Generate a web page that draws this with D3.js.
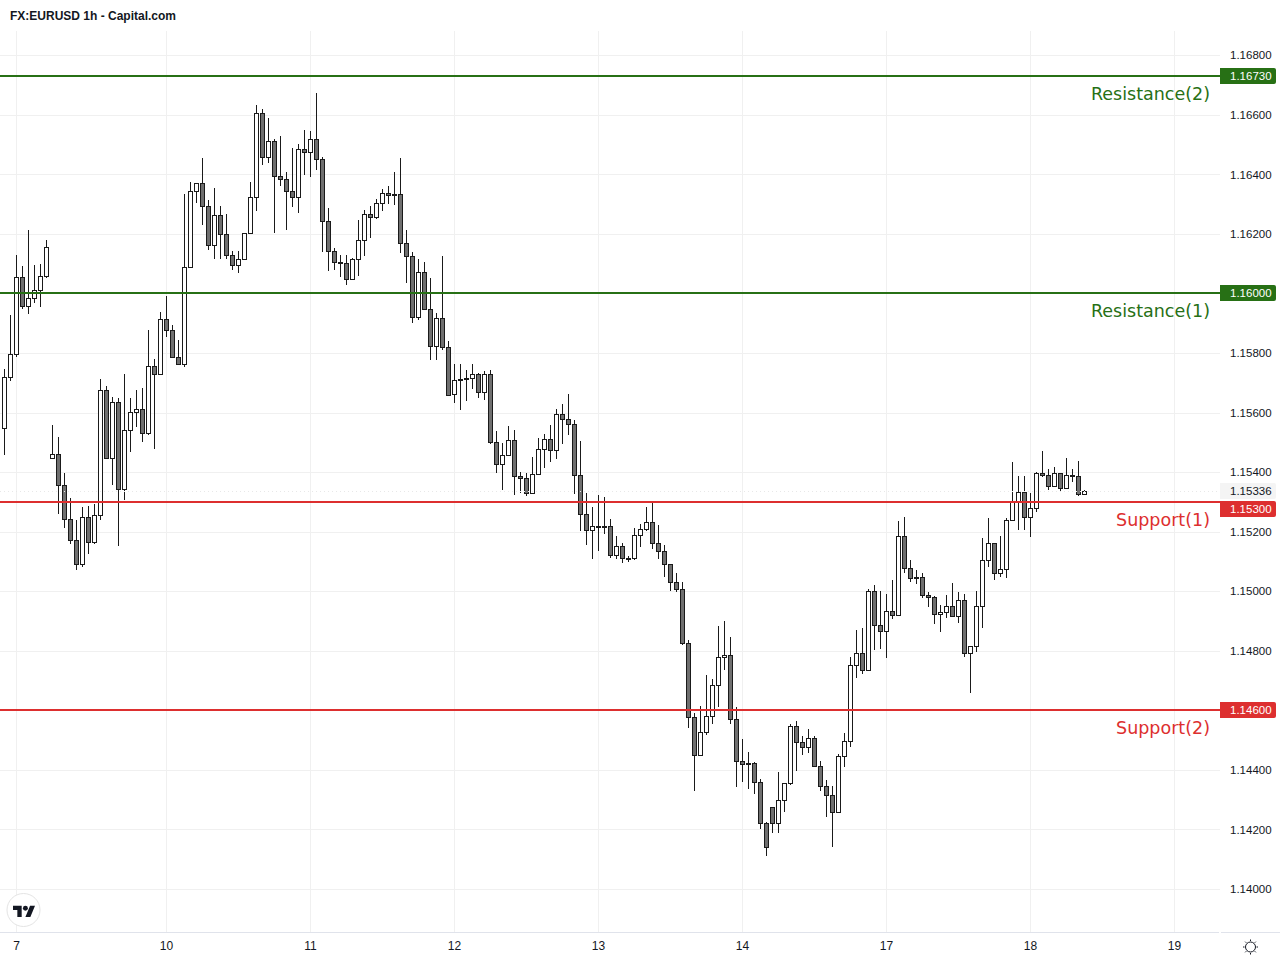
<!DOCTYPE html>
<html><head><meta charset="utf-8">
<script src="https://cdn.jsdelivr.net/npm/d3@7"></script>
<style>html,body{margin:0;padding:0;background:#fff}svg{display:block}text{font-family:"Liberation Sans",Arial,sans-serif}</style>
</head><body><svg id="c" width="1280" height="960"></svg>
<script>
const title = "FX:EURUSD 1h - Capital.com";
const priceTicks = [1.168,1.166,1.164,1.162,1.16,1.158,1.156,1.154,1.152,1.15,1.148,1.146,1.144,1.142,1.14];
const dayIndex = [2,27,51,75,99,123,147,171,195];
const dayLabels = ["7","10","11","12","13","14","17","18","19"];
const levelPrices = [1.1673,1.16,1.153,1.146];
const levelNames = ["Resistance(2)","Resistance(1)","Support(1)","Support(2)"];
const levelKinds = ["r","r","s","s"];
const lastPrice = 1.15336;
const opens = [
1.15548,1.15719,1.15796,1.16055,1.15957,1.15984,1.16011,1.16058,1.15447,1.15460,
1.15356,1.15242,1.15172,1.15091,1.15249,1.15165,1.15256,1.15675,1.15447,1.15635,
1.15343,1.15541,1.15601,1.15612,1.15531,1.15756,1.15729,1.15914,1.15877,1.15786,
1.15763,1.16088,1.16344,1.16371,1.16293,1.16162,1.16263,1.16199,1.16129,1.16095,
1.16115,1.16203,1.16323,1.16606,1.16458,1.16512,1.16394,1.16384,1.16344,1.16323,
1.16485,1.16475,1.16518,1.16451,1.16243,1.16142,1.16105,1.16102,1.16048,1.16115,
1.16179,1.16266,1.16256,1.16303,1.16337,1.16334,1.16334,1.16169,1.16125,1.15921,
1.16072,1.15947,1.15823,1.15917,1.15820,1.15662,1.15712,1.15712,1.15716,1.15729,
1.15669,1.15729,1.15501,1.15427,1.15457,1.15507,1.15387,1.15380,1.15329,1.15393,
1.15477,1.15511,1.15474,1.15595,1.15578,1.15561,1.15390,1.15259,1.15205,1.15219,
1.15219,1.15219,1.15121,1.15151,1.15111,1.15111,1.15188,1.15208,1.15232,1.15161,
1.15135,1.15091,1.15030,1.15007,1.14826,1.14577,1.14449,1.14527,1.14580,1.14685,
1.14779,1.14785,1.14570,1.14429,1.14423,1.14423,1.14359,1.14221,1.14275,1.14221,
1.14298,1.14355,1.14547,1.14493,1.14476,1.14507,1.14413,1.14345,1.14315,1.14258,
1.14446,1.14496,1.14752,1.14792,1.14735,1.15000,1.14886,1.14866,1.14933,1.14920,
1.15185,1.15078,1.15047,1.15047,1.14987,1.14980,1.14923,1.14930,1.14950,1.14916,
1.14970,1.14792,1.14816,1.14950,1.15104,1.15162,1.15061,1.15074,1.15239,1.15303,
1.15333,1.15249,1.15279,1.15397,1.15390,1.15353,1.15397,1.15346,1.15390,1.15387,
1.15326];
const highs = [
1.15746,1.15928,1.16130,1.16093,1.16214,1.16096,1.16100,1.16180,1.15559,1.15519,
1.15398,1.15314,1.15240,1.15284,1.15287,1.15294,1.15713,1.15690,1.15653,1.15650,
1.15730,1.15650,1.15676,1.15683,1.15878,1.15781,1.15938,1.15992,1.15895,1.15844,
1.16335,1.16374,1.16371,1.16456,1.16313,1.16355,1.16293,1.16268,1.16142,1.16142,
1.16203,1.16374,1.16634,1.16620,1.16590,1.16518,1.16530,1.16409,1.16488,1.16502,
1.16550,1.16545,1.16674,1.16458,1.16288,1.16152,1.16129,1.16130,1.16120,1.16247,
1.16281,1.16294,1.16318,1.16352,1.16362,1.16409,1.16456,1.16214,1.16140,1.16116,
1.16106,1.16053,1.15935,1.16126,1.15841,1.15764,1.15764,1.15744,1.15764,1.15732,
1.15740,1.15744,1.15539,1.15497,1.15556,1.15542,1.15401,1.15398,1.15451,1.15515,
1.15529,1.15559,1.15613,1.15629,1.15663,1.15576,1.15505,1.15331,1.15284,1.15324,
1.15317,1.15243,1.15186,1.15161,1.15118,1.15213,1.15226,1.15284,1.15297,1.15223,
1.15156,1.15091,1.15062,1.15032,1.14836,1.14592,1.14615,1.14719,1.14706,1.14884,
1.14901,1.14847,1.14612,1.14504,1.14461,1.14427,1.14370,1.14226,1.14275,1.14394,
1.14355,1.14555,1.14565,1.14514,1.14538,1.14514,1.14430,1.14367,1.14346,1.14454,
1.14524,1.14780,1.14870,1.14877,1.15007,1.15022,1.15000,1.14991,1.15038,1.15235,
1.15250,1.15104,1.15072,1.15062,1.14997,1.14984,1.14953,1.14988,1.15028,1.14997,
1.14991,1.14816,1.15001,1.15179,1.15247,1.15162,1.15185,1.15245,1.15435,1.15386,
1.15386,1.15329,1.15400,1.15472,1.15411,1.15418,1.15397,1.15448,1.15411,1.15438,
1.15340];
const lows = [
1.15459,1.15708,1.15788,1.15950,1.15930,1.15970,1.15956,1.16054,1.15443,1.15261,
1.15214,1.15160,1.15073,1.15083,1.15127,1.15160,1.15241,1.15447,1.15357,1.15154,
1.15308,1.15469,1.15553,1.15503,1.15525,1.15479,1.15729,1.15856,1.15786,1.15763,
1.15755,1.16088,1.16306,1.16231,1.16147,1.16116,1.16116,1.16116,1.16079,1.16069,
1.16115,1.16203,1.16279,1.16432,1.16439,1.16205,1.16362,1.16214,1.16291,1.16271,
1.16399,1.16392,1.16415,1.16140,1.16076,1.16079,1.16056,1.16029,1.16048,1.16059,
1.16126,1.16187,1.16251,1.16278,1.16301,1.16298,1.16137,1.16036,1.15902,1.15912,
1.15947,1.15777,1.15777,1.15811,1.15656,1.15633,1.15609,1.15640,1.15680,1.15650,
1.15643,1.15495,1.15398,1.15341,1.15457,1.15324,1.15329,1.15320,1.15329,1.15393,
1.15414,1.15436,1.15445,1.15495,1.15525,1.15327,1.15203,1.15156,1.15109,1.15136,
1.15193,1.15112,1.15109,1.15095,1.15099,1.15105,1.15149,1.15203,1.15142,1.15109,
1.15048,1.15001,1.14998,1.14820,1.14541,1.14330,1.14449,1.14519,1.14555,1.14612,
1.14736,1.14555,1.14343,1.14360,1.14336,1.14320,1.14202,1.14111,1.14189,1.14189,
1.14259,1.14350,1.14397,1.14451,1.14457,1.14413,1.14330,1.14242,1.14142,1.14258,
1.14410,1.14479,1.14709,1.14723,1.14735,1.14803,1.14807,1.14776,1.14907,1.14920,
1.15062,1.15032,1.15025,1.14978,1.14948,1.14891,1.14864,1.14911,1.14916,1.14894,
1.14780,1.14659,1.14797,1.14877,1.15082,1.15038,1.15048,1.15046,1.15239,1.15206,
1.15206,1.15184,1.15268,1.15385,1.15341,1.15353,1.15338,1.15346,1.15367,1.15322,
1.15326];
const closes = [
1.15719,1.15796,1.16055,1.15957,1.15984,1.16011,1.16058,1.16156,1.15460,1.15356,
1.15242,1.15172,1.15091,1.15249,1.15165,1.15256,1.15675,1.15447,1.15635,1.15343,
1.15541,1.15601,1.15612,1.15531,1.15756,1.15729,1.15914,1.15877,1.15786,1.15763,
1.16088,1.16344,1.16371,1.16293,1.16162,1.16263,1.16199,1.16129,1.16095,1.16115,
1.16203,1.16323,1.16606,1.16458,1.16512,1.16394,1.16384,1.16344,1.16323,1.16485,
1.16475,1.16518,1.16451,1.16243,1.16142,1.16105,1.16102,1.16048,1.16115,1.16179,
1.16266,1.16256,1.16303,1.16337,1.16330,1.16330,1.16169,1.16125,1.15921,1.16072,
1.15947,1.15823,1.15917,1.15820,1.15661,1.15709,1.15709,1.15716,1.15729,1.15669,
1.15729,1.15501,1.15427,1.15457,1.15507,1.15387,1.15380,1.15329,1.15393,1.15477,
1.15511,1.15474,1.15595,1.15578,1.15561,1.15390,1.15259,1.15205,1.15219,1.15217,
1.15217,1.15121,1.15151,1.15111,1.15109,1.15188,1.15208,1.15232,1.15161,1.15135,
1.15091,1.15030,1.15007,1.14826,1.14577,1.14449,1.14527,1.14580,1.14685,1.14779,
1.14785,1.14570,1.14429,1.14419,1.14419,1.14359,1.14221,1.14141,1.14221,1.14298,
1.14355,1.14547,1.14493,1.14476,1.14507,1.14413,1.14345,1.14315,1.14258,1.14446,
1.14496,1.14752,1.14792,1.14735,1.15000,1.14886,1.14866,1.14933,1.14920,1.15185,
1.15078,1.15044,1.15044,1.14987,1.14980,1.14923,1.14930,1.14950,1.14916,1.14970,
1.14792,1.14816,1.14950,1.15104,1.15162,1.15061,1.15074,1.15239,1.15303,1.15333,
1.15249,1.15279,1.15397,1.15390,1.15353,1.15397,1.15346,1.15390,1.15387,1.15326,
1.15336];

const svg = d3.select("#c");
const paneR = 1220, paneT = 31, paneB = 932;
const x = d3.scaleLinear().domain([0,195]).range([4.5,1174.5]);
const y = d3.scaleLinear().domain([1.168,1.14]).range([55.45,889.15]);
const snap = v => Math.round(v);
const gridCol = "#f0f0f0", ink = "#131722";
const colors = {r:"#277015", s:"#dd2f2f"};
const axisFont = "11.5px";

svg.append("rect").attr("width",1280).attr("height",960).attr("fill","#fff");

const gridY = d => Math.floor(y(d)+0.25)+0.5;
const grid = svg.append("g").attr("stroke",gridCol).attr("stroke-width",1);
grid.selectAll(".h").data(priceTicks).join("line")
  .attr("x1",0).attr("x2",paneR).attr("y1",gridY).attr("y2",gridY);
grid.selectAll(".v").data(dayIndex).join("line")
  .attr("x1",d=>x(d)).attr("x2",d=>x(d)).attr("y1",paneT).attr("y2",paneB);

// candles
const candles = d3.range(opens.length).map(i=>({i,o:opens[i],h:highs[i],l:lows[i],c:closes[i]}));
const cg = svg.append("g").selectAll("g").data(candles).join("g");
cg.append("line").attr("x1",d=>x(d.i)).attr("x2",d=>x(d.i))
  .attr("y1",d=>snap(y(d.h))).attr("y2",d=>snap(y(d.l)))
  .attr("stroke","#1a1a1a").attr("stroke-width",1);
cg.append("rect")
  .attr("x",d=>x(d.i)-2).attr("width",4)
  .attr("y",d=>snap(y(Math.max(d.o,d.c)))+0.5)
  .attr("height",d=>Math.max(0,snap(y(Math.min(d.o,d.c)))-snap(y(Math.max(d.o,d.c)))))
  .attr("fill",d=>d.c>=d.o?"#ffffff":"#6f6f6f")
  .attr("stroke","#1a1a1a").attr("stroke-width",1);

// last price dotted line
svg.append("line").attr("x1",0).attr("x2",paneR)
  .attr("y1",Math.floor(y(lastPrice))+0.5).attr("y2",Math.floor(y(lastPrice))+0.5)
  .attr("stroke","#e8e8e8").attr("stroke-width",1).attr("stroke-dasharray","1 3");

// levels
const levels = levelPrices.map((p,i)=>({p,name:levelNames[i],col:colors[levelKinds[i]],tagShift:p===1.153?7:0}));
svg.append("g").selectAll("line").data(levels).join("line")
  .attr("x1",0).attr("x2",paneR)
  .attr("y1",d=>Math.floor(y(d.p))).attr("y2",d=>Math.floor(y(d.p)))
  .attr("stroke",d=>d.col).attr("stroke-width",2);
svg.append("g").selectAll("text").data(levels).join("text")
  .attr("x",1210).attr("y",d=>Math.floor(y(d.p))+23.5)
  .attr("text-anchor","end").attr("fill",d=>d.col)
  .style("font-family","'DejaVu Sans',sans-serif").style("font-size","17.5px")
  .text(d=>d.name);

// price axis
const yAxis = d3.axisRight(y).offset(0).tickValues(priceTicks).tickFormat(d3.format(".5f")).tickSize(0).tickPadding(0);
const ya = svg.append("g").attr("transform","translate(1230,0)").call(yAxis);
ya.select(".domain").remove();
ya.selectAll("text").attr("fill",ink).style("font-size",axisFont).style("font-family","'Liberation Sans',sans-serif").attr("dy","0.35em");

const tagPath = (yc)=>{
  const t=yc-8,b=yc+8,l=1220,r=1276,c=2;
  return `M${l},${t}H${r-c}Q${r},${t} ${r},${t+c}V${b-c}Q${r},${b} ${r-c},${b}H${l}Z`;
};
const tagY = d => Math.floor(y(d.p))+d.tagShift;
svg.append("g").selectAll("path").data(levels).join("path")
  .attr("d",d=>tagPath(tagY(d))).attr("fill",d=>d.col);
svg.append("path").attr("d",tagPath(491)).attr("fill","#f4f4f4");
const tags = levels.map(d=>({p:d.p,col:"#fff",yc:tagY(d)})).concat([{p:lastPrice,col:ink,yc:491}]);
svg.append("g").selectAll("text").data(tags).join("text")
  .attr("x",1230).attr("y",d=>d.yc).attr("dy","0.35em").attr("fill",d=>d.col)
  .style("font-size",axisFont).text(d=>d3.format(".5f")(d.p));

// time axis
const xAxis = d3.axisBottom(x).offset(0).tickValues(dayIndex).tickFormat((d,i)=>dayLabels[i]).tickSize(0).tickPadding(0);
const xa = svg.append("g").attr("transform",`translate(0,${paneB+9})`).call(xAxis);
xa.select(".domain").remove();
xa.selectAll("text").attr("fill",ink).style("font-size","12px").style("font-family","'Liberation Sans',sans-serif").attr("dy","0.71em");
svg.append("line").attr("x1",0).attr("x2",paneR-1).attr("y1",paneB+0.5).attr("y2",paneB+0.5).attr("stroke","#e0e3eb");
svg.append("line").attr("x1",paneR+1).attr("x2",1280).attr("y1",paneB+0.5).attr("y2",paneB+0.5).attr("stroke","#e0e3eb");

// title
svg.append("text").attr("x",10).attr("y",20).attr("fill",ink)
  .style("font-size","12px").style("font-weight","bold").text(title);

// logo
svg.append("circle").attr("cx",23.5).attr("cy",910).attr("r",16.5).attr("fill","#fff").attr("stroke","#e4e4e4");
const logo = svg.append("g").attr("transform","translate(13,903.3) scale(0.62)").attr("fill",ink);
logo.append("path").attr("d","M14 22H7V11H0V4h14v18zM28 22h-8l7.5-18h8L28 22z");
logo.append("circle").attr("cx",20).attr("cy",8).attr("r",4);

// settings sun
const sun = svg.append("g").attr("transform","translate(1250.5,947)").attr("stroke",ink).attr("fill","none");
sun.append("circle").attr("r",5);
d3.range(8).forEach(i=>{
  const a=i*Math.PI/4;
  sun.append("line").attr("x1",6*Math.cos(a)).attr("y1",6*Math.sin(a)).attr("x2",7.5*Math.cos(a)).attr("y2",7.5*Math.sin(a));
});
</script></body></html>
